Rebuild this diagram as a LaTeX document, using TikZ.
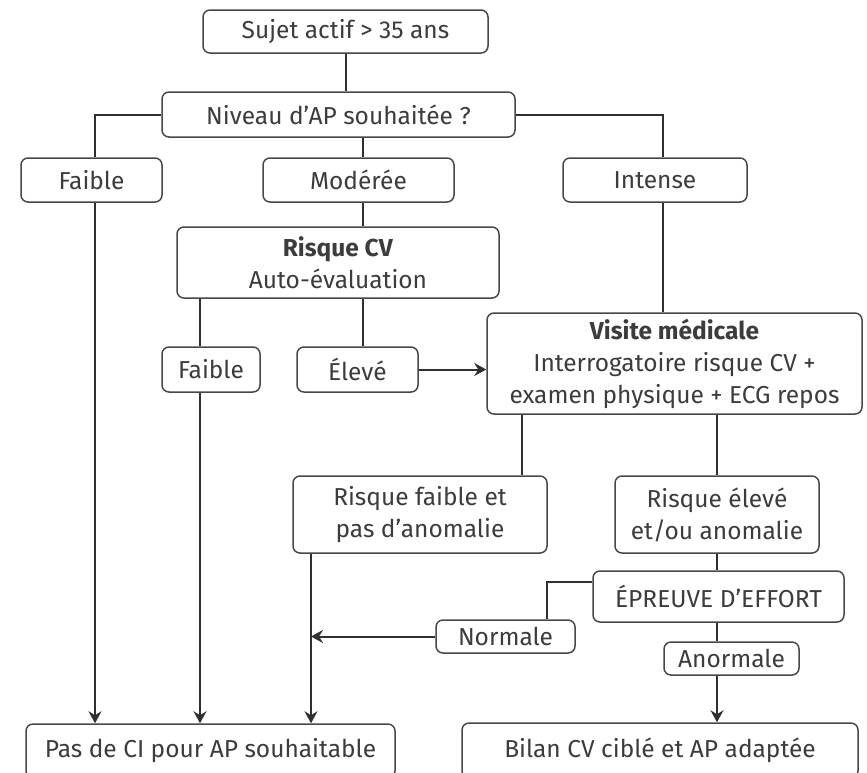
\documentclass[tikz,border=0pt]{standalone}
\usepackage{fontspec}
\setmainfont{Fira Sans}
\usetikzlibrary{arrows.meta}
\definecolor{ink}{HTML}{303030}
\definecolor{txt}{HTML}{3C3C3C}
\definecolor{frame}{HTML}{484848}
\begin{document}
\begin{tikzpicture}[x=1pt,y=-1pt,
  box/.style={draw=frame, line width=1.5pt, rounded corners=7pt, inner sep=0pt,
    align=center, text=txt, font=\fontsize{24.5}{32}\selectfont},
  link/.style={draw=ink, line width=2pt},
  arr/.style={link, -{Stealth[length=12pt,width=13pt,inset=4pt]}}]
\useasboundingbox (0,0) rectangle (867,772);
\fill[white] (0,0) rectangle (867,772);

\node[box, minimum width=285pt, minimum height=43pt] (s1) at (345.5,31.5) {Sujet actif > 35 ans};
\node[box, minimum width=353pt, minimum height=45pt] (niv) at (338.5,114.5) {Niveau d’AP souhaitée ?};
\node[box, minimum width=141pt, minimum height=44pt] (fa1) at (91.5,180) {Faible};
\node[box, minimum width=191pt, minimum height=44pt] (mod) at (358.5,180) {Modérée};
\node[box, minimum width=184pt, minimum height=44pt] (int) at (655,180) {Intense};
\node[box, minimum width=322pt, minimum height=71pt] (rcv) at (338,262.5) {\textbf{Risque CV}\\Auto-évaluation};
\node[box, minimum width=98pt, minimum height=45pt] (fa2) at (211,369.5) {Faible};
\node[box, minimum width=121pt, minimum height=45pt] (ele) at (357.5,369.5) {Élevé};
\node[box, minimum width=375pt, minimum height=101pt] (vis) at (674.5,363.5) {\textbf{Visite médicale}\\Interrogatoire risque CV +\\examen physique + ECG repos};
\node[box, minimum width=254pt, minimum height=77pt] (rf) at (420,514.5) {Risque faible et\\pas d’anomalie};
\node[box, minimum width=204pt, minimum height=77pt] (re) at (717,514.5) {Risque élevé\\et/ou anomalie};
\node[box, minimum width=251pt, minimum height=51pt] (ep) at (718.5,596.5) {ÉPREUVE D’EFFORT};
\node[box, minimum width=139pt, minimum height=33pt] (nor) at (505.5,636.5) {Normale};
\node[box, minimum width=135pt, minimum height=33pt] (ano) at (731.5,658.5) {Anormale};
\node[box, minimum width=369pt, minimum height=54pt] (pas) at (210.5,751) {Pas de CI pour AP souhaitable};
\node[box, minimum width=396pt, minimum height=55pt] (bil) at (660,750.5) {Bilan CV ciblé et AP adaptée};

\coordinate (xA) at (95,0);
\coordinate (xM) at (363,0);
\coordinate (xI) at (663,0);
\coordinate (xF) at (200,0);
\coordinate (xR) at (522,0);
\coordinate (xE) at (717,0);
\coordinate (xL) at (311,0);
\coordinate (xN) at (547,0);
\coordinate (yP) at (0,582);
\coordinate (epw) at (ep.west |- yP);

\draw[link] (s1.south) -- (s1.south |- niv.north);
\draw[link] (niv.west) -| (fa1.north -| xA);
\draw[link] (niv.east) -| (int.north -| xI);
\draw[link] (niv.south -| xM) -- (mod.north -| xM);
\draw[link] (mod.south -| xM) -- (rcv.north -| xM);
\draw[link] (rcv.south -| xM) -- (ele.north -| xM);
\draw[link] (rcv.south -| xF) -- (fa2.north -| xF);
\draw[arr] (fa2.south -| xF) -- (pas.north -| xF);
\draw[arr] (fa1.south -| xA) -- (pas.north -| xA);
\draw[arr] (ele.east) -- (ele.east -| vis.west);
\draw[link] (int.south -| xI) -- (vis.north -| xI);
\draw[link] (vis.south -| xR) -- (rf.north -| xR);
\draw[link] (vis.south -| xE) -- (re.north -| xE);
\draw[link] (re.south -| xE) -- (ep.north -| xE);
\draw[link] (ep.south -| xE) -- (ano.north -| xE);
\draw[arr] (ano.south -| xE) -- (bil.north -| xE);
\draw[arr] (rf.south -| xL) -- (pas.north -| xL);
\draw[link] (epw) -| (nor.north -| xN);
\draw[arr] (nor.west) -- (nor.west -| xL);
\end{tikzpicture}
\end{document}
